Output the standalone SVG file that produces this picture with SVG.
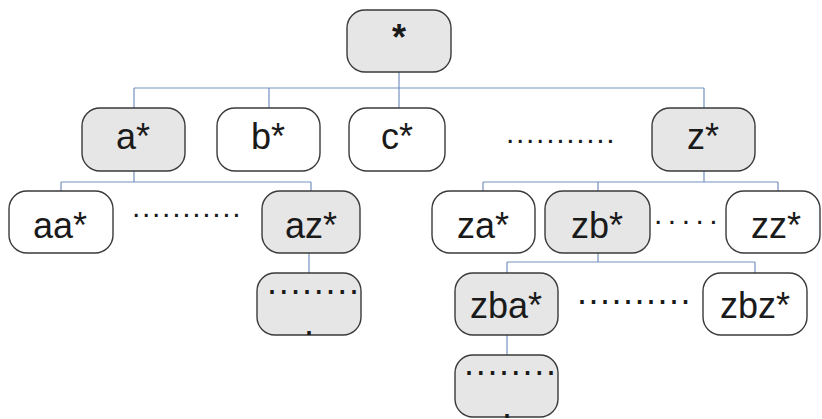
<svg xmlns="http://www.w3.org/2000/svg" width="822" height="419" viewBox="0 0 822 419">
  <style>
    .box { stroke: #3a3a3a; stroke-width: 1.4; }
    .on { fill: #e6e6e6; }
    .off { fill: #ffffff; }
    .lbl { font-family: "Liberation Sans", Arial, sans-serif; font-size: 36px; fill: #1a1a1a; text-anchor: middle; }
    .dots { font-family: "Liberation Sans", Arial, sans-serif; font-size: 30px; fill: #1a1a1a; }
    .bdots { font-family: "Liberation Sans", Arial, sans-serif; font-size: 36px; fill: #1a1a1a; }
    .wire { stroke: #7391bf; stroke-width: 1.2; fill: none; }
  </style>
  <rect width="822" height="419" fill="#ffffff"/>

  <!-- connectors -->
  <g id="connectors" class="wire">
    <path d="M399 72 V108"/>
    <path d="M134 88 H704 M134 88 V108 M269 88 V108 M704 88 V108"/>
    <path d="M134 171 V182 M61 182 H311 M61 182 V191 M311 182 V191"/>
    <path d="M704 171 V182 M483 182 H778 M483 182 V191 M598 182 V191 M778 182 V191"/>
    <path d="M598 252 V262 M507 262 H755 M507 262 V273 M755 262 V273"/>
    <path d="M309 253 V273"/>
    <path d="M507 335 V355"/>
  </g>

  <!-- root -->
  <g id="n-root">
    <rect class="box on" x="347" y="10" width="104" height="62" rx="18"/>
    <text class="lbl" x="399" y="50" font-weight="bold">*</text>
  </g>

  <!-- first letter -->
  <g id="n-a">
    <rect class="box on" x="82" y="108" width="103" height="63" rx="18"/>
    <text class="lbl" x="133" y="149">a*</text>
  </g>
  <g id="n-b">
    <rect class="box off" x="217" y="108" width="103" height="63" rx="18"/>
    <text class="lbl" x="268" y="149">b*</text>
  </g>
  <g id="n-c">
    <rect class="box off" x="349" y="108" width="96" height="63" rx="18"/>
    <text class="lbl" x="397" y="149">c*</text>
  </g>
  <text class="dots" x="506" y="143" letter-spacing="1.7">...........</text>
  <g id="n-z">
    <rect class="box on" x="652" y="108" width="103" height="63" rx="18"/>
    <text class="lbl" x="703" y="149">z*</text>
  </g>

  <!-- second letter -->
  <g id="n-aa">
    <rect class="box off" x="9" y="191" width="104" height="62" rx="18"/>
    <text class="lbl" x="60" y="238">aa*</text>
  </g>
  <text class="dots" x="132" y="217" letter-spacing="1.7">...........</text>
  <g id="n-az">
    <rect class="box on" x="262" y="191" width="98" height="62" rx="18"/>
    <text class="lbl" x="311" y="238">az*</text>
  </g>
  <g id="n-az-next">
    <rect class="box on" x="257" y="273" width="104" height="62" rx="18"/>
    <text class="bdots" x="267" y="294" letter-spacing="1.7">........</text>
    <text class="bdots" x="309" y="335" text-anchor="middle">.</text>
  </g>

  <g id="n-za">
    <rect class="box off" x="432" y="191" width="103" height="62" rx="18"/>
    <text class="lbl" x="483" y="238">za*</text>
  </g>
  <g id="n-zb">
    <rect class="box on" x="545" y="191" width="105" height="62" rx="18"/>
    <text class="lbl" x="597" y="238">zb*</text>
  </g>
  <text class="dots" x="654" y="224" letter-spacing="5.5">.....</text>
  <g id="n-zz">
    <rect class="box off" x="726" y="191" width="94" height="62" rx="18"/>
    <text class="lbl" x="776" y="238">zz*</text>
  </g>

  <!-- third letter -->
  <g id="n-zba">
    <rect class="box on" x="455" y="273" width="103" height="62" rx="18"/>
    <text class="lbl" x="506" y="318">zba*</text>
  </g>
  <text class="bdots" x="577" y="304" letter-spacing="1.5">..........</text>
  <g id="n-zbz">
    <rect class="box off" x="703" y="273" width="104" height="62" rx="18"/>
    <text class="lbl" x="755" y="318">zbz*</text>
  </g>
  <g id="n-zba-next">
    <rect class="box on" x="455" y="355" width="103" height="62" rx="18"/>
    <text class="bdots" x="464" y="375" letter-spacing="1.7">........</text>
    <text class="bdots" x="507" y="418" text-anchor="middle">.</text>
  </g>
</svg>
